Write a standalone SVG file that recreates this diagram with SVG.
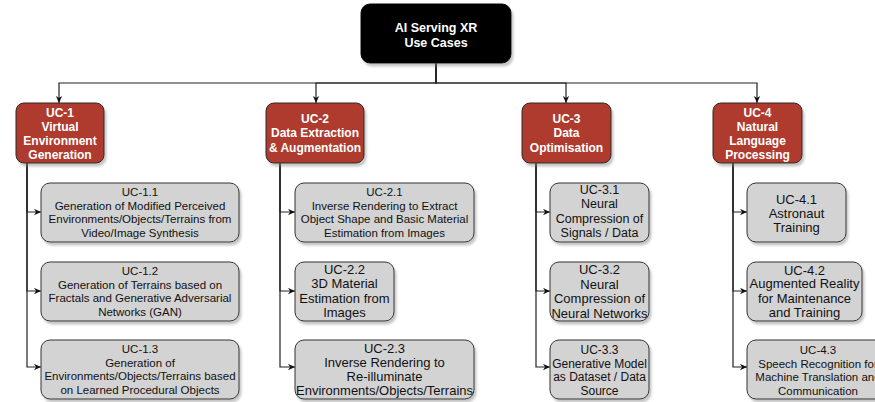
<svg xmlns="http://www.w3.org/2000/svg" width="875" height="402" viewBox="0 0 875 402">
<style>
.bg{fill:#ffffff}
.root{fill:#000000;stroke:#000000;stroke-width:1}
.uc{fill:#ae3b2e;stroke:#2b2b2b;stroke-width:1}
.sub{fill:#d3d3d3;stroke:#333333;stroke-width:1}
.tw{font-family:"Liberation Sans",Arial,sans-serif;font-weight:bold;font-size:12px;fill:#ffffff;text-anchor:middle}
.tr{font-family:"Liberation Sans",Arial,sans-serif;font-weight:bold;font-size:12.5px;fill:#ffffff;text-anchor:middle}
.ts{font-family:"Liberation Sans",Arial,sans-serif;font-size:11.5px;fill:#111111;text-anchor:middle}
.t12{font-family:"Liberation Sans",Arial,sans-serif;font-size:12px;fill:#111111;text-anchor:middle}
.tm{font-family:"Liberation Sans",Arial,sans-serif;font-size:12.5px;fill:#111111;text-anchor:middle}
.tl{font-family:"Liberation Sans",Arial,sans-serif;font-size:13px;fill:#111111;text-anchor:middle}
.c{fill:none;stroke:#222222;stroke-width:1.2;marker-end:url(#ah)}
</style>
<defs>
<marker id="ah" viewBox="0 0 10 10" refX="10" refY="5" markerWidth="7" markerHeight="7" markerUnits="userSpaceOnUse" orient="auto">
<path d="M0,0.5 L10,5 L0,9.5 L3,5 z" fill="#111111"/>
</marker>
<filter id="sh" x="-10%" y="-10%" width="130%" height="140%">
<feDropShadow dx="2" dy="3" stdDeviation="1" flood-color="#808080" flood-opacity="0.45"/>
</filter>
</defs>
<rect class="bg" x="0" y="0" width="875" height="402"/>

<g id="connectors">
<path class="c" d="M436,63 V83 H59 V103"/>
<path class="c" d="M436,63 V83 H316 V103"/>
<path class="c" d="M436,63 V83 H566 V103"/>
<path class="c" d="M436,63 V83 H757 V103"/>
<path class="c" d="M27,163 V212 H41"/>
<path class="c" d="M27,163 V291 H41"/>
<path class="c" d="M27,163 V367 H41"/>
<path class="c" d="M280,163 V212 H295"/>
<path class="c" d="M280,163 V291 H295"/>
<path class="c" d="M280,163 V367 H295"/>
<path class="c" d="M536,163 V212 H550"/>
<path class="c" d="M536,163 V291 H550"/>
<path class="c" d="M536,163 V367 H550"/>
<path class="c" d="M733,163 V212 H747"/>
<path class="c" d="M733,163 V291 H747"/>
<path class="c" d="M733,163 V367 H747"/>
</g>

<g id="root">
<rect class="root" x="361" y="4" width="150" height="59" rx="9" filter="url(#sh)"/>
<text class="tr" x="436" y="31.5">AI Serving XR</text>
<text class="tr" x="436" y="46.5">Use Cases</text>
</g>

<g id="uc1">
<rect class="uc" x="16" y="103" width="88" height="60" rx="8" filter="url(#sh)"/>
<text class="tw" x="60" y="116.5">UC-1</text>
<text class="tw" x="60" y="130.5">Virtual</text>
<text class="tw" x="60" y="144.5">Environment</text>
<text class="tw" x="60" y="158.5">Generation</text>
</g>
<g id="uc2">
<rect class="uc" x="266" y="103" width="98" height="60" rx="8" filter="url(#sh)"/>
<text class="tw" x="315" y="122.5">UC-2</text>
<text class="tw" x="315" y="136.5">Data Extraction</text>
<text class="tw" x="315" y="151.5">&amp; Augmentation</text>
</g>
<g id="uc3">
<rect class="uc" x="522" y="103" width="89" height="60" rx="8" filter="url(#sh)"/>
<text class="tw" x="566.5" y="122.5">UC-3</text>
<text class="tw" x="566.5" y="136.5">Data</text>
<text class="tw" x="566.5" y="151.5">Optimisation</text>
</g>
<g id="uc4">
<rect class="uc" x="713" y="103" width="89" height="60" rx="8" filter="url(#sh)"/>
<text class="tw" x="757.5" y="116.5">UC-4</text>
<text class="tw" x="757.5" y="130.5">Natural</text>
<text class="tw" x="757.5" y="144.5">Language</text>
<text class="tw" x="757.5" y="158.5">Processing</text>
</g>

<g id="uc1-1">
<rect class="sub" x="41" y="183" width="198" height="59" rx="9" filter="url(#sh)"/>
<text class="ts" x="140" y="196">UC-1.1</text>
<text class="ts" x="140" y="209.5">Generation of Modified Perceived</text>
<text class="ts" x="140" y="223">Environments/Objects/Terrains from</text>
<text class="ts" x="140" y="236.5">Video/Image Synthesis</text>
</g>
<g id="uc1-2">
<rect class="sub" x="41" y="262" width="198" height="59" rx="9" filter="url(#sh)"/>
<text class="ts" x="140" y="275">UC-1.2</text>
<text class="ts" x="140" y="288.5">Generation of Terrains based on</text>
<text class="ts" x="140" y="302">Fractals and Generative Adversarial</text>
<text class="ts" x="140" y="315.5">Networks (GAN)</text>
</g>
<g id="uc1-3">
<rect class="sub" x="41" y="340" width="198" height="59" rx="9" filter="url(#sh)"/>
<text class="ts" x="140" y="353">UC-1.3</text>
<text class="ts" x="140" y="366.5">Generation of</text>
<text class="ts" x="140" y="380">Environments/Objects/Terrains based</text>
<text class="ts" x="140" y="393.5">on Learned Procedural Objects</text>
</g>

<g id="uc2-1">
<rect class="sub" x="295" y="183" width="179" height="59" rx="9" filter="url(#sh)"/>
<text class="ts" x="384.5" y="196">UC-2.1</text>
<text class="ts" x="384.5" y="209.5">Inverse Rendering to Extract</text>
<text class="ts" x="384.5" y="223">Object Shape and Basic Material</text>
<text class="ts" x="384.5" y="236.5">Estimation from Images</text>
</g>
<g id="uc2-2">
<rect class="sub" x="295" y="262" width="99" height="59" rx="9" filter="url(#sh)"/>
<text class="tl" x="344.5" y="273.5">UC-2.2</text>
<text class="tl" x="344.5" y="288">3D Material</text>
<text class="tl" x="344.5" y="302.5">Estimation from</text>
<text class="tl" x="344.5" y="317">Images</text>
</g>
<g id="uc2-3">
<rect class="sub" x="295" y="340" width="179" height="59" rx="9" filter="url(#sh)"/>
<text class="tl" x="384.5" y="352.5">UC-2.3</text>
<text class="tl" x="384.5" y="366.5">Inverse Rendering to</text>
<text class="tl" x="384.5" y="380.5">Re-illuminate</text>
<text class="tl" x="384.5" y="394.5">Environments/Objects/Terrains</text>
</g>

<g id="uc3-1">
<rect class="sub" x="550" y="183" width="99" height="59" rx="9" filter="url(#sh)"/>
<text class="tm" x="599.5" y="193.5">UC-3.1</text>
<text class="tm" x="599.5" y="208">Neural</text>
<text class="tm" x="599.5" y="222.5">Compression of</text>
<text class="tm" x="599.5" y="237">Signals / Data</text>
</g>
<g id="uc3-2">
<rect class="sub" x="550" y="262" width="99" height="59" rx="9" filter="url(#sh)"/>
<text class="tl" x="599.5" y="274">UC-3.2</text>
<text class="tl" x="599.5" y="288.5">Neural</text>
<text class="tl" x="599.5" y="303">Compression of</text>
<text class="tl" x="599.5" y="317.5">Neural Networks</text>
</g>
<g id="uc3-3">
<rect class="sub" x="550" y="340" width="99" height="59" rx="9" filter="url(#sh)"/>
<text class="t12" x="599.5" y="354">UC-3.3</text>
<text class="t12" x="599.5" y="367.5">Generative Model</text>
<text class="t12" x="599.5" y="381">as Dataset / Data</text>
<text class="t12" x="599.5" y="394.5">Source</text>
</g>

<g id="uc4-1">
<rect class="sub" x="747" y="183" width="99" height="59" rx="9" filter="url(#sh)"/>
<text class="tl" x="796.5" y="203.5">UC-4.1</text>
<text class="tl" x="796.5" y="217.5">Astronaut</text>
<text class="tl" x="796.5" y="231.5">Training</text>
</g>
<g id="uc4-2">
<rect class="sub" x="747" y="262" width="115" height="59" rx="9" filter="url(#sh)"/>
<text class="tl" x="804.5" y="274.5">UC-4.2</text>
<text class="tl" x="804.5" y="288">Augmented Reality</text>
<text class="tl" x="804.5" y="302.5">for Maintenance</text>
<text class="tl" x="804.5" y="317">and Training</text>
</g>
<g id="uc4-3">
<rect class="sub" x="747" y="340" width="142" height="59" rx="9" filter="url(#sh)"/>
<text class="ts" x="818" y="354">UC-4.3</text>
<text class="ts" x="818" y="367.5">Speech Recognition for</text>
<text class="ts" x="818" y="381">Machine Translation and</text>
<text class="ts" x="818" y="394.5">Communication</text>
</g>
</svg>
